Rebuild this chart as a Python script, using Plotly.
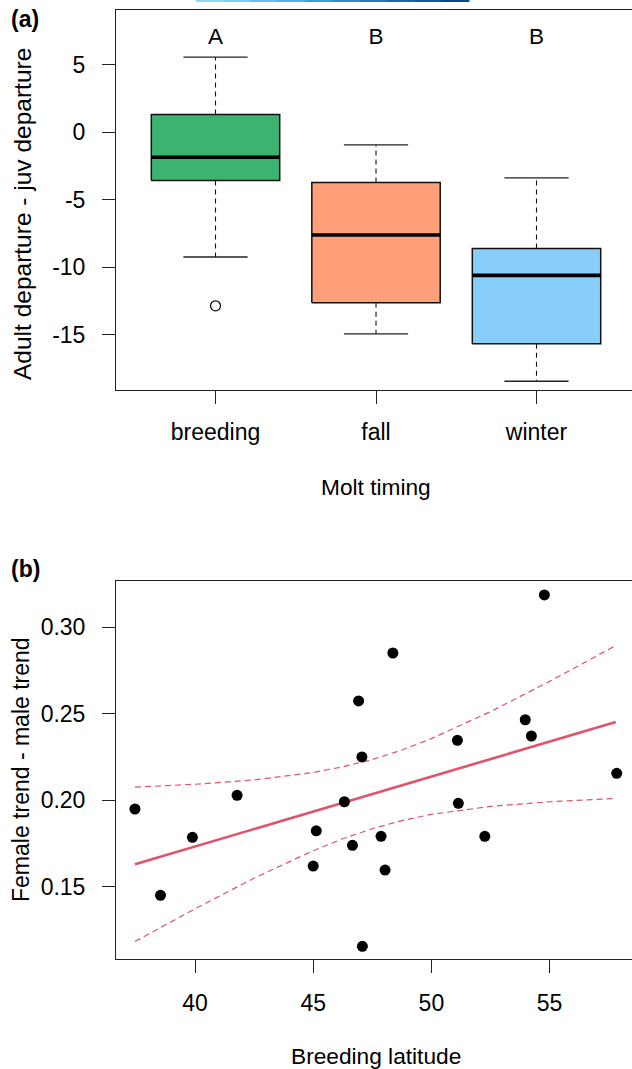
import plotly.graph_objects as go

W, H = 632, 1069
FONT = "Liberation Sans, Arial, sans-serif"

# ---------------- Panel (a) data: box plot summaries ----------------
categories = ["breeding", "fall", "winter"]
box_pos = [1, 2, 3]
upper_whisker = [5.55, -0.95, -3.39]
q3 = [1.30, -3.73, -8.62]
median = [-1.86, -7.61, -10.60]
q1 = [-3.59, -12.62, -15.66]
lower_whisker = [-9.24, -14.92, -18.43]
outlier_pos = [1]
outlier_value = [-12.85]
group_letters = ["A", "B", "B"]
box_colors = ["#3CB371", "#FFA07A", "#87CEFA"]
a_yticks = [-15, -10, -5, 0, 5]

# ---------------- Panel (b) data: scatter + fitted line ----------------
breeding_lat = [37.46, 38.54, 39.89, 41.78, 45.00, 45.13, 46.32, 46.66, 47.08,
                47.87, 48.04, 51.14, 52.26, 57.84, 54.78, 48.37, 46.92, 53.97,
                54.23, 51.10, 47.06]
trend_diff = [0.1948, 0.1449, 0.1784, 0.2027, 0.1618, 0.1822, 0.1990, 0.1738,
              0.1154, 0.1790, 0.1595, 0.1981, 0.1790, 0.2154, 0.3186, 0.2850,
              0.2573, 0.2464, 0.2370, 0.2345, 0.2249]
fit_x = [37.46, 40.0, 42.5, 45.0, 46.25, 47.5, 48.75, 50.0, 52.5, 55.0, 57.8]
fit_y = [0.1628, 0.1731, 0.1832, 0.1933, 0.1984, 0.2034, 0.2085, 0.2136,
         0.2237, 0.2338, 0.2451]
ci_upper = [0.2074, 0.2091, 0.2116, 0.2159, 0.2192, 0.2234, 0.2289, 0.2355,
            0.2511, 0.2686, 0.2893]
ci_lower = [0.1182, 0.1371, 0.1548, 0.1707, 0.1776, 0.1834, 0.1881, 0.1917,
            0.1963, 0.1990, 0.2009]
b_xticks = [40, 45, 50, 55]
b_yticks = [0.15, 0.20, 0.25, 0.30]
b_yticktext = ["0.15", "0.20", "0.25", "0.30"]

FIT_COLOR = "#DF536B"
LINE = "#222222"

fig = go.Figure()

# ---- boxes ----
half = 0.4
cap = 0.2
for i, p in enumerate(box_pos):
    # whiskers (dashed)
    fig.add_trace(go.Scatter(x=[p, p], y=[q3[i], upper_whisker[i]], mode="lines",
                             line=dict(color="#111", width=1.1, dash="5px,4px"),
                             xaxis="x", yaxis="y", hoverinfo="skip", showlegend=False))
    fig.add_trace(go.Scatter(x=[p, p], y=[q1[i], lower_whisker[i]], mode="lines",
                             line=dict(color="#111", width=1.1, dash="5px,4px"),
                             xaxis="x", yaxis="y", hoverinfo="skip", showlegend=False))
    # caps
    for v in (upper_whisker[i], lower_whisker[i]):
        fig.add_trace(go.Scatter(x=[p - cap, p + cap], y=[v, v], mode="lines",
                                 line=dict(color="#222", width=1.3),
                                 xaxis="x", yaxis="y", hoverinfo="skip", showlegend=False))
    # box
    fig.add_trace(go.Scatter(x=[p - half, p + half, p + half, p - half, p - half],
                             y=[q1[i], q1[i], q3[i], q3[i], q1[i]],
                             mode="lines", fill="toself", fillcolor=box_colors[i],
                             line=dict(color="#111", width=1.5),
                             xaxis="x", yaxis="y", hoverinfo="skip", showlegend=False))
    # median
    fig.add_trace(go.Scatter(x=[p - half, p + half], y=[median[i], median[i]], mode="lines",
                             line=dict(color="#000", width=3.6),
                             xaxis="x", yaxis="y", hoverinfo="skip", showlegend=False))

# outlier
fig.add_trace(go.Scatter(x=outlier_pos, y=outlier_value, mode="markers",
                         marker=dict(symbol="circle-open", size=10, color="#111",
                                     line=dict(width=1.3, color="#111")),
                         xaxis="x", yaxis="y", hoverinfo="skip", showlegend=False))

# group letters
fig.add_trace(go.Scatter(x=box_pos, y=[6.96] * len(box_pos), mode="text",
                         text=group_letters, textposition="middle center",
                         textfont=dict(family=FONT, size=22.5, color="#000"),
                         xaxis="x", yaxis="y", hoverinfo="skip", showlegend=False))

# ---- panel (b) ----
fig.add_trace(go.Scatter(x=fit_x, y=ci_upper, mode="lines",
                         line=dict(color=FIT_COLOR, width=1.2, dash="6px,4px"),
                         xaxis="x2", yaxis="y2", hoverinfo="skip", showlegend=False))
fig.add_trace(go.Scatter(x=fit_x, y=ci_lower, mode="lines",
                         line=dict(color=FIT_COLOR, width=1.2, dash="6px,4px"),
                         xaxis="x2", yaxis="y2", hoverinfo="skip", showlegend=False))
fig.add_trace(go.Scatter(x=fit_x, y=fit_y, mode="lines",
                         line=dict(color=FIT_COLOR, width=2.6),
                         xaxis="x2", yaxis="y2", hoverinfo="skip", showlegend=False))
fig.add_trace(go.Scatter(x=breeding_lat, y=trend_diff, mode="markers",
                         marker=dict(size=11, color="#000"),
                         xaxis="x2", yaxis="y2", hoverinfo="skip", showlegend=False))


def py(px):
    return 1 - px / H


def pxx(px):
    return px / W


axis_common = dict(showgrid=False, zeroline=False, ticks="outside", ticklen=13,
                   tickcolor=LINE, tickwidth=1, showline=True, linecolor=LINE,
                   linewidth=1, tickfont=dict(family=FONT, size=23, color="#000"))

fig.update_layout(
    width=W, height=H,
    margin=dict(l=0, r=0, t=0, b=0),
    paper_bgcolor="white", plot_bgcolor="white",
    showlegend=False,
    xaxis=dict(domain=[pxx(116), 1], range=[0.38, 3.595], tickmode="array",
               tickvals=box_pos, ticktext=categories, mirror=True,
               ticklabelstandoff=9, anchor="y", **axis_common),
    yaxis=dict(domain=[py(389.5), py(10)], range=[-19.04, 9.03], tickmode="array",
               tickvals=a_yticks, ticktext=[str(v) for v in a_yticks],
               ticklabelstandoff=12, anchor="x", **axis_common),
    xaxis2=dict(domain=[pxx(116), 1], range=[36.658, 58.486], tickmode="array",
                tickvals=b_xticks, ticktext=[str(v) for v in b_xticks], mirror=True,
                ticklabelstandoff=10, anchor="y2", **axis_common),
    yaxis2=dict(domain=[py(959.3), py(580.7)], range=[0.1079, 0.3268], tickmode="array",
                tickvals=b_yticks, ticktext=b_yticktext,
                ticklabelstandoff=12, anchor="x2", **axis_common),
)

ann = [
    dict(text="<b>(a)</b>", x=pxx(9), y=py(19), xanchor="left", yanchor="middle", size=23),
    dict(text="<b>(b)</b>", x=pxx(9), y=py(569), xanchor="left", yanchor="middle", size=23),
    dict(text="Molt timing", x=pxx(376), y=py(487), xanchor="center", yanchor="middle", size=22.7),
    dict(text="Breeding latitude", x=pxx(376), y=py(1056), xanchor="center", yanchor="middle", size=22.7),
    dict(text="Adult departure - juv departure", x=pxx(22), y=py(214), xanchor="center",
         yanchor="middle", size=24.5, angle=-90),
    dict(text="Female trend - male trend", x=pxx(21), y=py(770), xanchor="center",
         yanchor="middle", size=23, angle=-90),
]
for a in ann:
    fig.add_annotation(text=a["text"], xref="paper", yref="paper", x=a["x"], y=a["y"],
                       xanchor=a["xanchor"], yanchor=a["yanchor"], showarrow=False,
                       textangle=a.get("angle", 0),
                       font=dict(family=FONT, size=a["size"], color="#000"))

# decorative gradient strip at very top (part of the page header)
strip_colors = ["#8fd8f5", "#7ccdee", "#68bfe6", "#54b0dc", "#419fd0", "#328dc2",
                "#267ab2", "#1c68a0", "#15588e", "#0f497c"]
x0, x1 = 196, 469
seg = (x1 - x0) / len(strip_colors)
for k, c in enumerate(strip_colors):
    fig.add_shape(type="rect", xref="paper", yref="paper",
                  x0=pxx(x0 + k * seg), x1=pxx(x0 + (k + 1) * seg + 0.5),
                  y0=py(2), y1=py(0), fillcolor=c, line=dict(width=0), layer="above")

fig.write_html("out.html")
